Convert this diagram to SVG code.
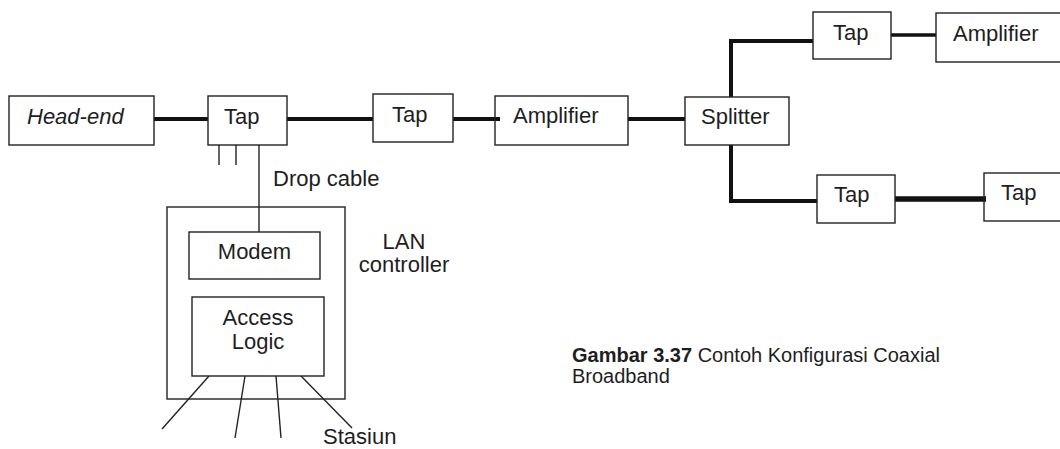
<svg xmlns="http://www.w3.org/2000/svg" width="1060" height="449" viewBox="0 0 1060 449">
<style>
.box{fill:#fff;stroke:#222;stroke-width:1.4}
.frame{fill:none;stroke:#222;stroke-width:1.4}
.t{font-family:"Liberation Sans",Arial,sans-serif;font-size:22px;fill:#1e1e1e}
.thin{stroke:#222;stroke-width:1.4;fill:none}
.thick{stroke:#111;stroke-width:4;fill:none}
.cap{font-family:"Liberation Sans",Arial,sans-serif;font-size:20px;fill:#1e1e1e}
</style>
<rect width="1060" height="449" fill="#fff"/>
<g id="lan-controller"><rect class="frame" x="167" y="207" width="178" height="192"/>
<text class="t" x="404" y="249" text-anchor="middle">LAN</text><text class="t" x="404" y="272" text-anchor="middle">controller</text></g>
<g id="connectors">
<line class="thick" x1="154" y1="119" x2="208" y2="119"/>
<line class="thick" x1="287" y1="119" x2="373" y2="119"/>
<line class="thick" x1="453" y1="119" x2="500" y2="119"/>
<line class="thick" x1="628" y1="119" x2="685" y2="119"/>
<polyline class="thick" points="731,97 731,41 813,41"/>
<polyline class="thick" points="731,145 731,201 817,201"/>
<line class="thick" style="stroke-width:3.3" x1="891" y1="35" x2="937" y2="35"/>
<line class="thick" style="stroke-width:5.3" x1="895" y1="199" x2="986" y2="199"/>
<line class="thin" x1="219" y1="145" x2="219" y2="165"/>
<line class="thin" x1="236" y1="145" x2="236" y2="165"/>
<line class="thin" x1="259" y1="145" x2="259" y2="232"/>
<line class="thin" x1="209" y1="376" x2="162" y2="429"/>
<line class="thin" x1="245" y1="376" x2="235" y2="438"/>
<line class="thin" x1="276" y1="376" x2="281" y2="438"/>
<line class="thin" x1="301" y1="376" x2="352" y2="428"/>
</g>
<g id="head-end"><rect class="box" x="9" y="96" width="145" height="49"/><text class="t" x="27" y="124" font-style="italic">Head-end</text></g>
<g id="tap1"><rect class="box" x="208" y="96" width="79" height="49"/><text class="t" x="224" y="124">Tap</text></g>
<g id="tap2"><rect class="box" x="373" y="94" width="80" height="48"/><text class="t" x="392" y="122">Tap</text></g>
<g id="amplifier1"><rect class="frame" x="495" y="96" width="133" height="49"/><text class="t" x="513" y="123">Amplifier</text></g>
<g id="splitter"><rect class="box" x="685" y="97" width="104" height="48"/><text class="t" x="701" y="123.5">Splitter</text></g>
<g id="tap3"><rect class="box" x="813" y="12" width="78" height="47"/><text class="t" x="833" y="39.5">Tap</text></g>
<g id="amplifier2"><rect class="box" x="936" y="13" width="130" height="49"/><text class="t" x="953" y="41">Amplifier</text></g>
<g id="tap4"><rect class="box" x="817" y="175" width="78" height="48"/><text class="t" x="834" y="201.5">Tap</text></g>
<g id="tap5"><rect class="frame" x="984" y="173" width="90" height="48"/><text class="t" x="1001" y="200">Tap</text></g>
<g id="drop-cable-label"><text class="t" x="273" y="186">Drop cable</text></g>
<g id="modem"><rect class="box" x="189" y="232" width="131" height="47"/><text class="t" x="254.5" y="259" text-anchor="middle">Modem</text></g>
<g id="access-logic"><rect class="box" x="192" y="297" width="132" height="79"/><text class="t" x="258" y="325" text-anchor="middle">Access</text><text class="t" x="258" y="349" text-anchor="middle">Logic</text></g>
<g id="stasiun"><text class="t" x="323" y="444">Stasiun</text></g>
<g id="caption"><text class="cap" x="572" y="362"><tspan font-weight="bold">Gambar 3.37</tspan> Contoh Konfigurasi Coaxial</text><text class="cap" x="572" y="383">Broadband</text></g>
</svg>
